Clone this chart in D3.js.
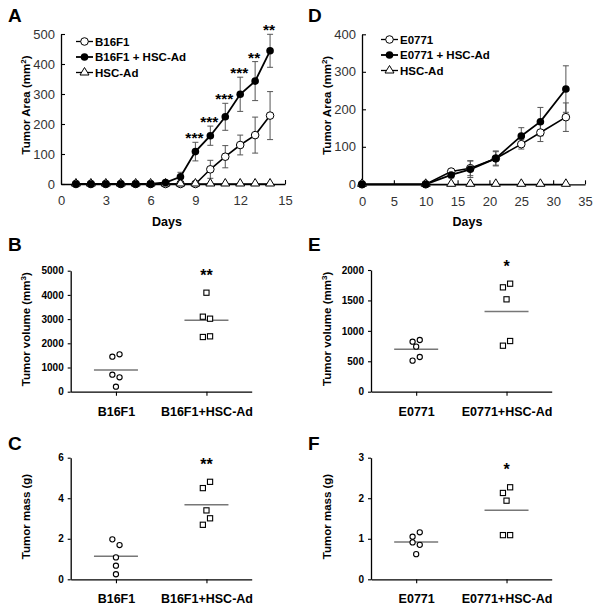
<!DOCTYPE html>
<html lang="en">
<head>
<meta charset="utf-8">
<title>Tumor growth panels</title>
<script src="https://d3js.org/d3.v7.min.js"></script>
<style>
  body { margin: 0; background: #fff; }
  svg { font-family: "Liberation Sans", Arial, sans-serif; }
</style>
</head>
<body>
<script>
// ---- data ----
var daysA = [1, 2, 3, 4, 5, 6, 7, 8, 9, 10, 11, 12, 13, 14];
var b16 = [0, 0, 0, 0, 0, 0, 0, 0, 0, 49, 91, 130, 163, 228];
var b16Err = [0, 0, 0, 0, 0, 0, 0, 0, 0, 30, 37, 33, 60, 80];
var b16Ad = [0, 0, 0, 0, 0, 0, 5, 24, 108, 161, 224, 299, 343, 444];
var b16AdErr = [0, 0, 0, 0, 0, 0, 4, 15, 31, 32, 45, 57, 65, 55];
var hscA = [0, 0, 0, 0, 0, 0, 0, 0, 0, 0, 0, 0, 0, 0];
var sigA = ["", "", "", "", "", "", "", "", "***", "***", "***", "***", "**", "**"];

var daysD = [0, 10, 14, 17, 21, 25, 28, 32];
var e07 = [0, 0, 34, 43, 69, 107, 138, 179];
var e07Err = [0, 0, 5, 20, 18, 13, 24, 38];
var e07Ad = [0, 0, 25, 40, 69, 129, 167, 254];
var e07AdErr = [0, 0, 8, 22, 20, 22, 38, 62];
var hscD = [0, 0, 0, 0, 0, 0, 0, 0];

var catsB = ["B16F1", "B16F1+HSC-Ad"];
var catsE = ["E0771", "E0771+HSC-Ad"];

var volB16 = [1446, 1545, 703, 595, 207];
var volB16Ad = [4091, 3099, 3017, 2260, 2288];
var volE07 = [822, 850, 740, 570, 510];
var volE07Ad = [1715, 1775, 1518, 756, 833];
var massB16 = [1.97, 1.69, 1.08, 0.67, 0.25];
var massB16Ad = [4.81, 4.50, 3.40, 3.01, 2.69];
var massE07 = [1.05, 1.16, 0.91, 0.85, 0.62];
var massE07Ad = [2.27, 2.13, 1.94, 1.09, 1.09];

// side of the jitter for each dot (-1 left, 0 centre, 1 right)
var jitB16 = [-1, 1, -1, 1, 0], jitB16Ad = [0, -1, 1, -1, 1];
var jitE07 = [-1, 1, 0, 1, -1], jitE07Ad = [-1, 1, 0, -1, 1];
var jitMB16 = [-1, 1, 0, 0, 0], jitMB16Ad = [1, -1, 0, 1, -1];
var jitME07 = [-1, 1, -1, 1, 0], jitME07Ad = [1, -1, 0, -1, 1];

var w = 604, h = 611;
var svg = d3.select("body").append("svg")
  .attr("width", w).attr("height", h);

function letter(t, x, y) {
  svg.append("text").attr("x", x).attr("y", y)
    .attr("font-size", 19).attr("font-weight", "bold").text(t);
}

function ylabel(g, x, cy, main, sup, tail) {
  var t = g.append("text")
    .attr("transform", "translate(" + x + "," + cy + ") rotate(-90)")
    .attr("text-anchor", "middle")
    .attr("font-size", 11.5).attr("font-weight", "bold");
  t.append("tspan").text(main);
  if (sup) {
    t.append("tspan").attr("font-size", 8).attr("dy", -4).text(sup);
    t.append("tspan").attr("dy", 4).text(tail);
  }
}

function tri(cx, cy) {
  return "M" + cx + "," + (cy - 4.5) + "L" + (cx + 4.5) + "," + (cy + 3) + "L" + (cx - 4.5) + "," + (cy + 3) + "Z";
}

// ---- growth curve panels ----
function curvePanel(o) {
  var x = d3.scaleLinear().domain([0, o.xMax]).range([o.x0, o.x1]);
  var y = d3.scaleLinear().domain([0, o.yMax]).range([o.yb, o.yt]);
  var g = svg.append("g");

  var xa = g.append("g").attr("transform", "translate(0," + o.yb + ")")
    .call(d3.axisBottom(x).tickValues(o.xTicks).tickSizeInner(-4).tickSizeOuter(0).tickPadding(12));
  var ya = g.append("g").attr("transform", "translate(" + o.x0 + ",0)")
    .call(d3.axisLeft(y).ticks(o.yTicks).tickSizeInner(-4).tickSizeOuter(0).tickPadding(6));
  [xa, ya].forEach(function (a) {
    a.select(".domain").attr("stroke", "#000").attr("stroke-width", 1.3);
    a.selectAll(".tick line").attr("stroke", "#000").attr("stroke-width", 1.1);
    a.selectAll("text").attr("font-size", 13).attr("fill", "#333")
      .attr("font-family", "Liberation Sans, Arial, sans-serif");
  });

  g.append("text").attr("x", (o.x0 + o.x1) / 2 - 6).attr("y", o.yb + 42)
    .attr("text-anchor", "middle").attr("font-size", 12.5).attr("font-weight", "bold").text("Days");
  ylabel(g, o.labX, (o.yb + o.yt) / 2 - 4, "Tumor Area (mm", "2", ")");

  var line = d3.line().x(function (d) { return x(d[0]); }).y(function (d) { return y(d[1]); });
  function pairs(v) { return o.days.map(function (d, i) { return [d, v[i]]; }); }

  // error bars
  [[o.s1, o.e1], [o.s2, o.e2]].forEach(function (s) {
    o.days.forEach(function (d, i) {
      if (!s[1][i]) return;
      var cx = x(d), t = y(s[0][i] + s[1][i]), b = y(s[0][i] - s[1][i]);
      g.append("line").attr("x1", cx).attr("x2", cx).attr("y1", t).attr("y2", b)
        .attr("stroke", "#555").attr("stroke-width", 1);
      [t, b].forEach(function (yy) {
        g.append("line").attr("x1", cx - 3).attr("x2", cx + 3).attr("y1", yy).attr("y2", yy)
          .attr("stroke", "#555").attr("stroke-width", 1);
      });
    });
  });

  g.append("path").datum(pairs(o.s3)).attr("d", line).attr("fill", "none").attr("stroke", "#000").attr("stroke-width", 1.3);
  g.append("path").datum(pairs(o.s1)).attr("d", line).attr("fill", "none").attr("stroke", "#000").attr("stroke-width", 1.6);
  g.append("path").datum(pairs(o.s2)).attr("d", line).attr("fill", "none").attr("stroke", "#000").attr("stroke-width", 1.8);

  g.selectAll(".op").data(pairs(o.s1)).enter().append("circle")
    .attr("cx", function (d) { return x(d[0]); }).attr("cy", function (d) { return y(d[1]); })
    .attr("r", 3.8).attr("fill", "#fff").attr("stroke", "#000").attr("stroke-width", 1);
  g.selectAll(".tr").data(pairs(o.s3)).enter().append("path")
    .attr("d", function (d) { return tri(x(d[0]), y(d[1]) - 1); })
    .attr("fill", "#fff").attr("stroke", "#000").attr("stroke-width", 1);
  g.selectAll(".fl").data(pairs(o.s2)).enter().append("circle")
    .attr("cx", function (d) { return x(d[0]); }).attr("cy", function (d) { return y(d[1]); })
    .attr("r", 3.8).attr("fill", "#000");

  if (o.sig) {
    o.days.forEach(function (d, i) {
      if (!o.sig[i]) return;
      g.append("text").attr("x", x(d) - 1).attr("y", y(o.s2[i] + o.e2[i]) + 1)
        .attr("text-anchor", "middle").attr("font-size", 15.5).attr("font-weight", "bold").text(o.sig[i]);
    });
  }

  // legend
  o.names.forEach(function (n, i) {
    var ly = o.legY + i * 15.5, lx = o.legX;
    g.append("line").attr("x1", lx).attr("x2", lx + 17).attr("y1", ly).attr("y2", ly)
      .attr("stroke", "#000").attr("stroke-width", i === 1 ? 1.8 : 1.3);
    if (i === 0) g.append("circle").attr("cx", lx + 8.5).attr("cy", ly).attr("r", 3.8)
      .attr("fill", "#fff").attr("stroke", "#000");
    if (i === 1) g.append("circle").attr("cx", lx + 8.5).attr("cy", ly).attr("r", 3.8).attr("fill", "#000");
    if (i === 2) g.append("path").attr("d", tri(lx + 8.5, ly - 0.5)).attr("fill", "#fff").attr("stroke", "#000");
    g.append("text").attr("x", lx + 19).attr("y", ly + 4).attr("font-size", 11.5)
      .attr("font-weight", "bold").text(n);
  });
}

curvePanel({
  x0: 61, x1: 285, xMax: 15, xTicks: [0, 3, 6, 9, 12, 15],
  yb: 184, yt: 34, yMax: 500, yTicks: 5, labX: 30,
  days: daysA, s1: b16, e1: b16Err, s2: b16Ad, e2: b16AdErr, s3: hscA, sig: sigA,
  names: ["B16F1", "B16F1 + HSC-Ad", "HSC-Ad"], legX: 76, legY: 41.5
});
curvePanel({
  x0: 362, x1: 585, xMax: 35, xTicks: [0, 5, 10, 15, 20, 25, 30, 35],
  yb: 184.3, yt: 34.3, yMax: 400, yTicks: 4, labX: 331,
  days: daysD, s1: e07, e1: e07Err, s2: e07Ad, e2: e07AdErr, s3: hscD, sig: null,
  names: ["E0771", "E0771 + HSC-Ad", "HSC-Ad"], legX: 381, legY: 39.5
});

// ---- scatter panels ----
function dotPanel(o) {
  var x = d3.scalePoint().domain(o.cats).range([o.x0, o.x1]).padding(0.5);
  var y = d3.scaleLinear().domain([0, o.yMax]).range([o.yb, o.yt]);
  var g = svg.append("g");

  var xa = g.append("g").attr("transform", "translate(0," + o.yb + ")")
    .call(d3.axisBottom(x).tickSizeInner(4).tickSizeOuter(0).tickPadding(11));
  var ya = g.append("g").attr("transform", "translate(" + o.x0 + ",0)")
    .call(d3.axisLeft(y).tickValues(o.yTicks).tickFormat(d3.format("d"))
      .tickSizeInner(3).tickSizeOuter(0).tickPadding(4));
  [xa, ya].forEach(function (a) {
    a.select(".domain").attr("stroke", "#000").attr("stroke-width", 1.3);
    a.selectAll(".tick line").attr("stroke", "#000").attr("stroke-width", 1.1);
    a.selectAll("text").attr("fill", "#000").attr("font-weight", "bold")
      .attr("font-family", "Liberation Sans, Arial, sans-serif");
  });
  xa.selectAll("text").attr("font-size", 12.5);
  ya.selectAll("text").attr("font-size", 10);

  ylabel(g, o.labX, (o.yb + o.yt) / 2 - 2, o.lab, o.sup, o.tail);

  [[o.a, o.ja], [o.b, o.jb]].forEach(function (s, k) {
    var cx = x(o.cats[k]);
    var m = d3.mean(s[0]);
    g.append("line").attr("x1", cx - 22).attr("x2", cx + 22).attr("y1", y(m)).attr("y2", y(m))
      .attr("stroke", "#777").attr("stroke-width", 1.5);
    s[0].forEach(function (v, i) {
      var px = cx + s[1][i] * 3.6, py = y(v);
      if (k === 0) {
        g.append("circle").attr("cx", px).attr("cy", py).attr("r", 2.6)
          .attr("fill", "#fff").attr("stroke", "#000").attr("stroke-width", 1.1);
      } else {
        g.append("rect").attr("x", px - 2.6).attr("y", py - 2.6).attr("width", 5.2).attr("height", 5.2)
          .attr("fill", "#fff").attr("stroke", "#000").attr("stroke-width", 1.1);
      }
    });
  });
  var top = y(d3.max(o.b));
  g.append("text").attr("x", x(o.cats[1])).attr("y", top - 21 + 9)
    .attr("text-anchor", "middle").attr("font-size", 16).attr("font-weight", "bold").text(o.sig);
}

dotPanel({ cats: catsB, x0: 70.7, x1: 251.7, yb: 391.7, yt: 270.7, yMax: 5000,
  yTicks: [0, 1000, 2000, 3000, 4000, 5000], labX: 30, lab: "Tumor volume (mm", sup: "3", tail: ")",
  a: volB16, ja: jitB16, b: volB16Ad, jb: jitB16Ad, sig: "**" });
dotPanel({ cats: catsE, x0: 371, x1: 551.7, yb: 391.7, yt: 270, yMax: 2000,
  yTicks: [0, 500, 1000, 1500, 2000], labX: 331, lab: "Tumor volume (mm", sup: "3", tail: ")",
  a: volE07, ja: jitE07, b: volE07Ad, jb: jitE07Ad, sig: "*" });
dotPanel({ cats: catsB, x0: 70.7, x1: 251.7, yb: 579.3, yt: 457.7, yMax: 6,
  yTicks: [0, 2, 4, 6], labX: 30, lab: "Tumor mass (g)",
  a: massB16, ja: jitMB16, b: massB16Ad, jb: jitMB16Ad, sig: "**" });
dotPanel({ cats: catsE, x0: 371, x1: 551.7, yb: 579.3, yt: 457.7, yMax: 3,
  yTicks: [0, 1, 2, 3], labX: 331, lab: "Tumor mass (g)",
  a: massE07, ja: jitME07, b: massE07Ad, jb: jitME07Ad, sig: "*" });

letter("A", 8, 22);
letter("D", 308, 22);
letter("B", 8, 251);
letter("E", 308, 251);
letter("C", 8, 450);
letter("F", 308, 450);
</script>
</body>
</html>
